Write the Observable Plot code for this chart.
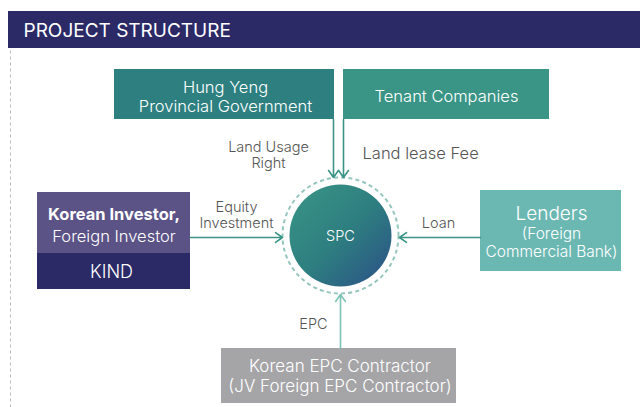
<!DOCTYPE html>
<html><head><meta charset="utf-8">
<script src="https://cdn.jsdelivr.net/npm/d3@7"></script>
<script src="https://cdn.jsdelivr.net/npm/@observablehq/plot@0.6"></script>
<style>body{margin:0;background:#fff}svg{display:block}</style>
</head><body><div id="chart"></div>
<script>
// ---- content ----
const title = "PROJECT STRUCTURE";
const centerName = "SPC";
const boxNames = ["Hung Yeng\nProvincial Government", "Tenant Companies", "Korean Investor,", "Foreign Investor", "KIND", "Lenders", "(Foreign\nCommercial Bank)", "Korean EPC Contractor\n(JV Foreign EPC Contractor)"];
const flowLabels = ["Land Usage\nRight", "Land lease Fee", "Equity\nInvestment", "Loan", "EPC"];

// ---- layout (pixel space) ----
const rects = [
  {x1: 8, x2: 640, y1: 11, y2: 48, fill: "#2b2a67"},
  {x1: 114, x2: 334, y1: 69, y2: 119, fill: "#2e7f80"},
  {x1: 343, x2: 549, y1: 69, y2: 119, fill: "#3a9586"},
  {x1: 37, x2: 190, y1: 192, y2: 253, fill: "#5b5386"},
  {x1: 37, x2: 190, y1: 253, y2: 289, fill: "#2b2a67"},
  {x1: 480, x2: 621, y1: 190, y2: 271, fill: "#6bb8b3"},
  {x1: 221, x2: 456, y1: 348, y2: 403, fill: "#a5a5a8"}
];
const boxText = [
  {x: 225, y: 95.5, t: boxNames[0], size: 16.5, weight: 300},
  {x: 446, y: 95, t: boxNames[1], size: 16.5, weight: 300},
  {x: 113.5, y: 213, t: boxNames[2], size: 16.5, weight: 700},
  {x: 113.5, y: 235, t: boxNames[3], size: 16.5, weight: 300},
  {x: 111, y: 271, t: boxNames[4], size: 18, weight: 300},
  {x: 551, y: 212, t: boxNames[5], size: 19, weight: 300},
  {x: 551, y: 241.5, t: boxNames[6], size: 15.5, weight: 300},
  {x: 339.5, y: 375.5, t: boxNames[7], size: 17, weight: 300}
];
const labelPos = [
  {x: 268, y: 154, anchor: "middle", size: 14.5},
  {x: 362, y: 152, anchor: "start", size: 16.5},
  {x: 236, y: 214, anchor: "middle", size: 14.5},
  {x: 438, y: 222, anchor: "middle", size: 14.5},
  {x: 313, y: 323, anchor: "middle", size: 14.5}
];
const arrows = [
  {x1: 333, y1: 119, x2: 333, y2: 177, c: "#3a9586"},
  {x1: 343, y1: 119, x2: 343, y2: 177, c: "#3a9586"},
  {x1: 190, y1: 237, x2: 282, y2: 237, c: "#3a9586"},
  {x1: 480, y1: 237, x2: 399, y2: 237, c: "#3a9586"},
  {x1: 340, y1: 348, x2: 340, y2: 294, c: "#7dc1b5"}
];
const center = {x: 340, y: 235};

const labels = flowLabels.map((t, i) => ({t, ...labelPos[i]}));
const font = "Inter, Roboto, 'Noto Sans', sans-serif";

const txt = (data, opts) => Plot.text(data, {x: "x", y: "y", text: "t", fontFamily: font, lineHeight: 1.15, ...opts});

const plot = Plot.plot({
  width: 640, height: 407,
  margin: 0,
  x: {domain: [0, 640], range: [0, 640], axis: null},
  y: {domain: [0, 407], range: [0, 407], axis: null},
  style: {background: "#fff", fontFamily: font},
  marks: [
    Plot.link([{x: 10, y1: 50, y2: 407}], {x1: "x", x2: "x", y1: "y1", y2: "y2", stroke: "#bbb", strokeDasharray: "3,3", strokeWidth: 1}),
    Plot.rect(rects, {x1: "x1", x2: "x2", y1: "y1", y2: "y2", fill: d => d.fill}),
    Plot.text([{x: 23, y: 30, t: title}], {x: "x", y: "y", text: "t", textAnchor: "start", fill: "#fff", fontSize: 19, fontWeight: 400, fontFamily: font, letterSpacing: "-0.4px"}),
    ...boxText.map(b => txt([b], {fill: "#fff", fontSize: b.size, fontWeight: b.weight})),
    ...labels.map(l => txt([l], {fill: "#555", fontSize: l.size, fontWeight: 300, textAnchor: l.anchor})),
    Plot.dot([center], {x: "x", y: "y", r: 58, fill: "none", stroke: "#93c6bd", strokeWidth: 2, strokeDasharray: "4,3.2"}),
    Plot.dot([center], {x: "x", y: "y", r: 51, fill: "url(#spcGrad)", stroke: "none"}),
    Plot.text([{...center, y: center.y + 1, t: centerName}], {x: "x", y: "y", text: "t", fill: "#fff", fontSize: 14.5, fontWeight: 300, fontFamily: font}),
    ...arrows.map(a => Plot.arrow([a], {x1: "x1", y1: "y1", x2: "x2", y2: "y2", stroke: a.c, strokeWidth: 1.6, headLength: 8, headAngle: 70}))
  ]
});

const svg = d3.select(plot);
const defs = svg.insert("defs", ":first-child");
const g = defs.append("linearGradient").attr("id", "spcGrad").attr("x1", "0").attr("y1", "0").attr("x2", "1").attr("y2", "1");
g.append("stop").attr("offset", "0%").attr("stop-color", "#3a9586");
g.append("stop").attr("offset", "50%").attr("stop-color", "#2e7f80");
g.append("stop").attr("offset", "100%").attr("stop-color", "#2b4f87");
document.getElementById("chart").appendChild(plot);
</script></body></html>
